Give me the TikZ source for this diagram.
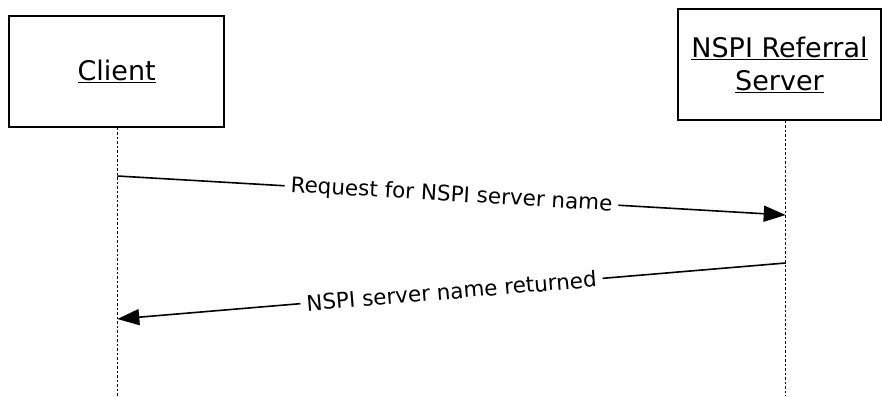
\documentclass[tikz,border=0pt]{standalone}
\usepackage{fontspec}
\setmainfont{DejaVu Sans}
\usetikzlibrary{arrows.meta}
\tikzset{
  actor/.style={draw=black, line width=1.5pt, fill=white, align=center, font=\fontsize{27}{33}\selectfont, inner sep=0pt},
  lifeline/.style={line width=1.2pt, dash pattern=on 2.5pt off 2pt},
  msg/.style={line width=1.6pt, -{Triangle[length=22pt,width=16pt]}},
  msglabel/.style={fill=white, font=\fontsize{21.5}{24}\selectfont, inner xsep=6pt, inner ysep=2pt, sloped, pos=0.5}
}
\begin{document}
\begin{tikzpicture}[x=1pt,y=-1pt]
\useasboundingbox (0,0) rectangle (882,396);
\node[actor, minimum width=215pt, minimum height=111pt] (client) at (116.7,71.5) {\underline{Client}};
\node[actor, minimum width=203pt, minimum height=111pt] (server) at (779.5,64.5) {\underline{NSPI Referral}\\\underline{Server}};
\coordinate (clientend) at (117.3,396);
\coordinate (serverend) at (785.7,396);
\draw[lifeline] (client.south -| clientend) -- (clientend);
\draw[lifeline] (server.south -| serverend) -- (serverend);
\coordinate (m1s) at (117.3,176);
\coordinate (m1e) at (785.7,215);
\coordinate (m2s) at (785.7,263);
\coordinate (m2e) at (117.3,319);
\draw[msg] (m1s) -- node[msglabel] (l1) {Request for NSPI server name} (m1e);
\draw[msg] (m2s) -- node[msglabel] (l2) {NSPI server name returned} (m2e);
\end{tikzpicture}
\end{document}
